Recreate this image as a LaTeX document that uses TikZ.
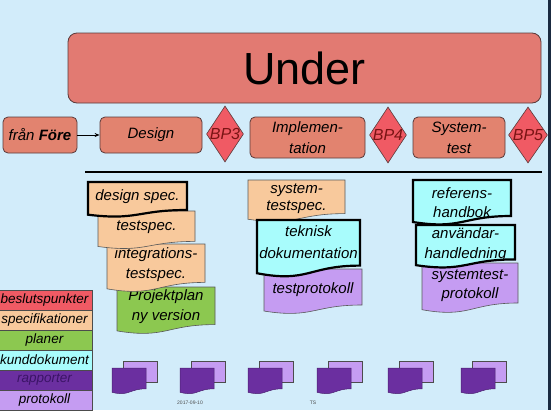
\documentclass[tikz,border=0pt]{standalone}
\usepackage{fontspec}
\setmainfont{Liberation Sans}
\usetikzlibrary{shapes.geometric,arrows.meta}
\definecolor{bg}{HTML}{D2ECFA}
\definecolor{underfill}{HTML}{E27A72}
\definecolor{procfill}{HTML}{E2836F}
\definecolor{boxline}{HTML}{5A3A3A}
\definecolor{diafill}{HTML}{F05A64}
\definecolor{bptext}{HTML}{7A1414}
\definecolor{peach}{HTML}{F8C99C}
\definecolor{grn}{HTML}{8CC850}
\definecolor{cyn}{HTML}{A8FCFC}
\definecolor{lpurp}{HTML}{C59CF2}
\definecolor{dpurp}{HTML}{6B2FA0}
\definecolor{dpurptext}{HTML}{3B1466}
\definecolor{edge}{HTML}{1A2A40}
\newcommand\mydoc[5]{%
  \begin{scope}[shift={(#1,#2)},xscale=#3,yscale=#4]
    \path[#5] (0,0) -- (1,0) -- (1,0.80) .. controls (0.5,0.80) and (0.5,1.107) .. (0,0.934) -- cycle;
  \end{scope}}
\begin{document}
\begin{tikzpicture}[x=1pt,y=-1pt,
  proc/.style={draw=boxline,fill=procfill,rounded corners=5pt,line width=0.8pt,align=center,
    font=\fontsize{15}{21}\selectfont\itshape,inner sep=0pt},
  diam/.style={shape=diamond,draw=boxline,fill=diafill,line width=0.6pt,inner sep=0pt},
  bplabel/.style={text=bptext,font=\fontsize{16}{18}\selectfont\itshape,inner sep=0pt},
  doctext/.style={align=center,font=\fontsize{15}{20}\selectfont\itshape,inner sep=0pt},
  thickdoc/.style={draw=black,line width=2.2pt},
  thindoc/.style={draw=gray!70!black,line width=0.6pt},
  legend/.style={draw=gray!60!black,line width=0.5pt,minimum width=95pt,minimum height=20pt,
    inner sep=0pt,font=\fontsize{13.5}{15}\selectfont\itshape},
  backsheet/.style={fill=lpurp,draw=gray!60!black,line width=0.5pt},
  frontsheet/.style={fill=dpurp,draw=dpurp!70!black,line width=0.5pt},
  footer/.style={font=\fontsize{5}{6}\selectfont,text=black!70,inner sep=0pt}
]
\useasboundingbox (0,0) rectangle (551,410);
\fill[bg] (0,0) rectangle (551,410);
\fill[edge] (548,0) rectangle (551,410);

% title box
\node[draw=boxline,fill=underfill,rounded corners=9pt,line width=0.8pt,minimum width=473pt,minimum height=70pt,
  font=\fontsize{45}{50}\selectfont] (under) at (304.5,68) {Under};

% process row
\node[proc,minimum width=74pt,minimum height=36pt] (fran) at (40,135) {från \textbf{Före}};
\node[proc,minimum width=102pt,minimum height=36pt] (design) at (151,135) {Design};
\node[proc,minimum width=115pt,minimum height=41pt] (impl) at (307.5,137.5) {Implemen-\\tation};
\node[proc,minimum width=92pt,minimum height=41pt] (syst) at (459,137.5) {System-\\test};
\node[diam,minimum width=37pt,minimum height=56pt] (bp3) at (225,134) {};
\node[bplabel] at (bp3) {BP3};
\node[diam,minimum width=37pt,minimum height=56pt] (bp4) at (388,135) {};
\node[bplabel] at (bp4) {BP4};
\node[diam,minimum width=39pt,minimum height=56pt] (bp5) at (528,135) {};
\node[bplabel] at (bp5) {BP5};
\draw[line width=1pt,-{Stealth[length=5pt,width=4pt]}] (fran) -- (design);

% separator
\coordinate (sepL) at (85,172);
\coordinate (sepR) at (542,172);
\draw[line width=1.5pt] (sepL) -- (sepR);

% column 1
\mydoc{117}{287}{98}{47}{fill=grn,thindoc}
\node[doctext] (pp) at (166,307) {Projektplan\\ny version};
\mydoc{107}{244}{98}{48}{fill=peach,thindoc}
\node[doctext] (itsp) at (156,265) {integrations-\\testspec.};
\mydoc{98}{211}{97}{38}{fill=peach,thindoc}
\node[doctext] (tsp) at (146.5,227) {testspec.};
\mydoc{88}{182}{99}{35}{fill=peach,thickdoc}
\node[doctext] (dsp) at (137.5,197) {design spec.};

% column 2
\mydoc{248}{180}{97}{42}{fill=peach,thindoc}
\node[doctext,font=\fontsize{15}{17}\selectfont\itshape] (sts) at (296.5,198.5) {system-\\testspec.};
\mydoc{264}{269}{98}{45}{fill=lpurp,thindoc}
\node[doctext] (tp) at (313,290) {testprotokoll};
\mydoc{257}{220}{103}{57}{fill=cyn,thickdoc}
\node[doctext,font=\fontsize{15}{22}\selectfont\itshape] (tek) at (308.5,242) {teknisk\\dokumentation};

% column 3
\mydoc{422}{263}{96}{50}{fill=lpurp,thindoc}
\node[doctext,font=\fontsize{15}{19}\selectfont\itshape] (stp) at (470,286) {systemtest-\\protokoll};
\mydoc{416}{225}{99}{43}{fill=cyn,thickdoc}
\node[doctext] (anv) at (465.5,245) {användar-\\handledning};
\mydoc{413}{180}{98}{45}{fill=cyn,thickdoc}
\node[doctext,font=\fontsize{15}{19}\selectfont\itshape] (ref) at (462,202.5) {referens-\\handbok};

% legend
\node[legend,fill=diafill] (lg1) at (44.5,300) {beslutspunkter};
\node[legend,fill=peach] (lg2) at (44.5,320) {specifikationer};
\node[legend,fill=grn] (lg3) at (44.5,340) {planer};
\node[legend,fill=cyn] (lg4) at (44.5,360) {kunddokument};
\node[legend,fill=dpurp,text=dpurptext] (lg5) at (44.5,380) {rapporter};
\node[legend,fill=lpurp] (lg6) at (44.5,400) {protokoll};

% report icons
\foreach \fx in {112,180,248,317,388,461}{
  \draw[backsheet] (\fx+11,361) rectangle (\fx+45,382);
  \mydoc{\fx}{368}{34}{26}{frontsheet}
}

% footer
\node[footer] (date) at (190,403) {2017-09-10};
\node[footer] (ts) at (313,403) {TS};
\end{tikzpicture}
\end{document}
